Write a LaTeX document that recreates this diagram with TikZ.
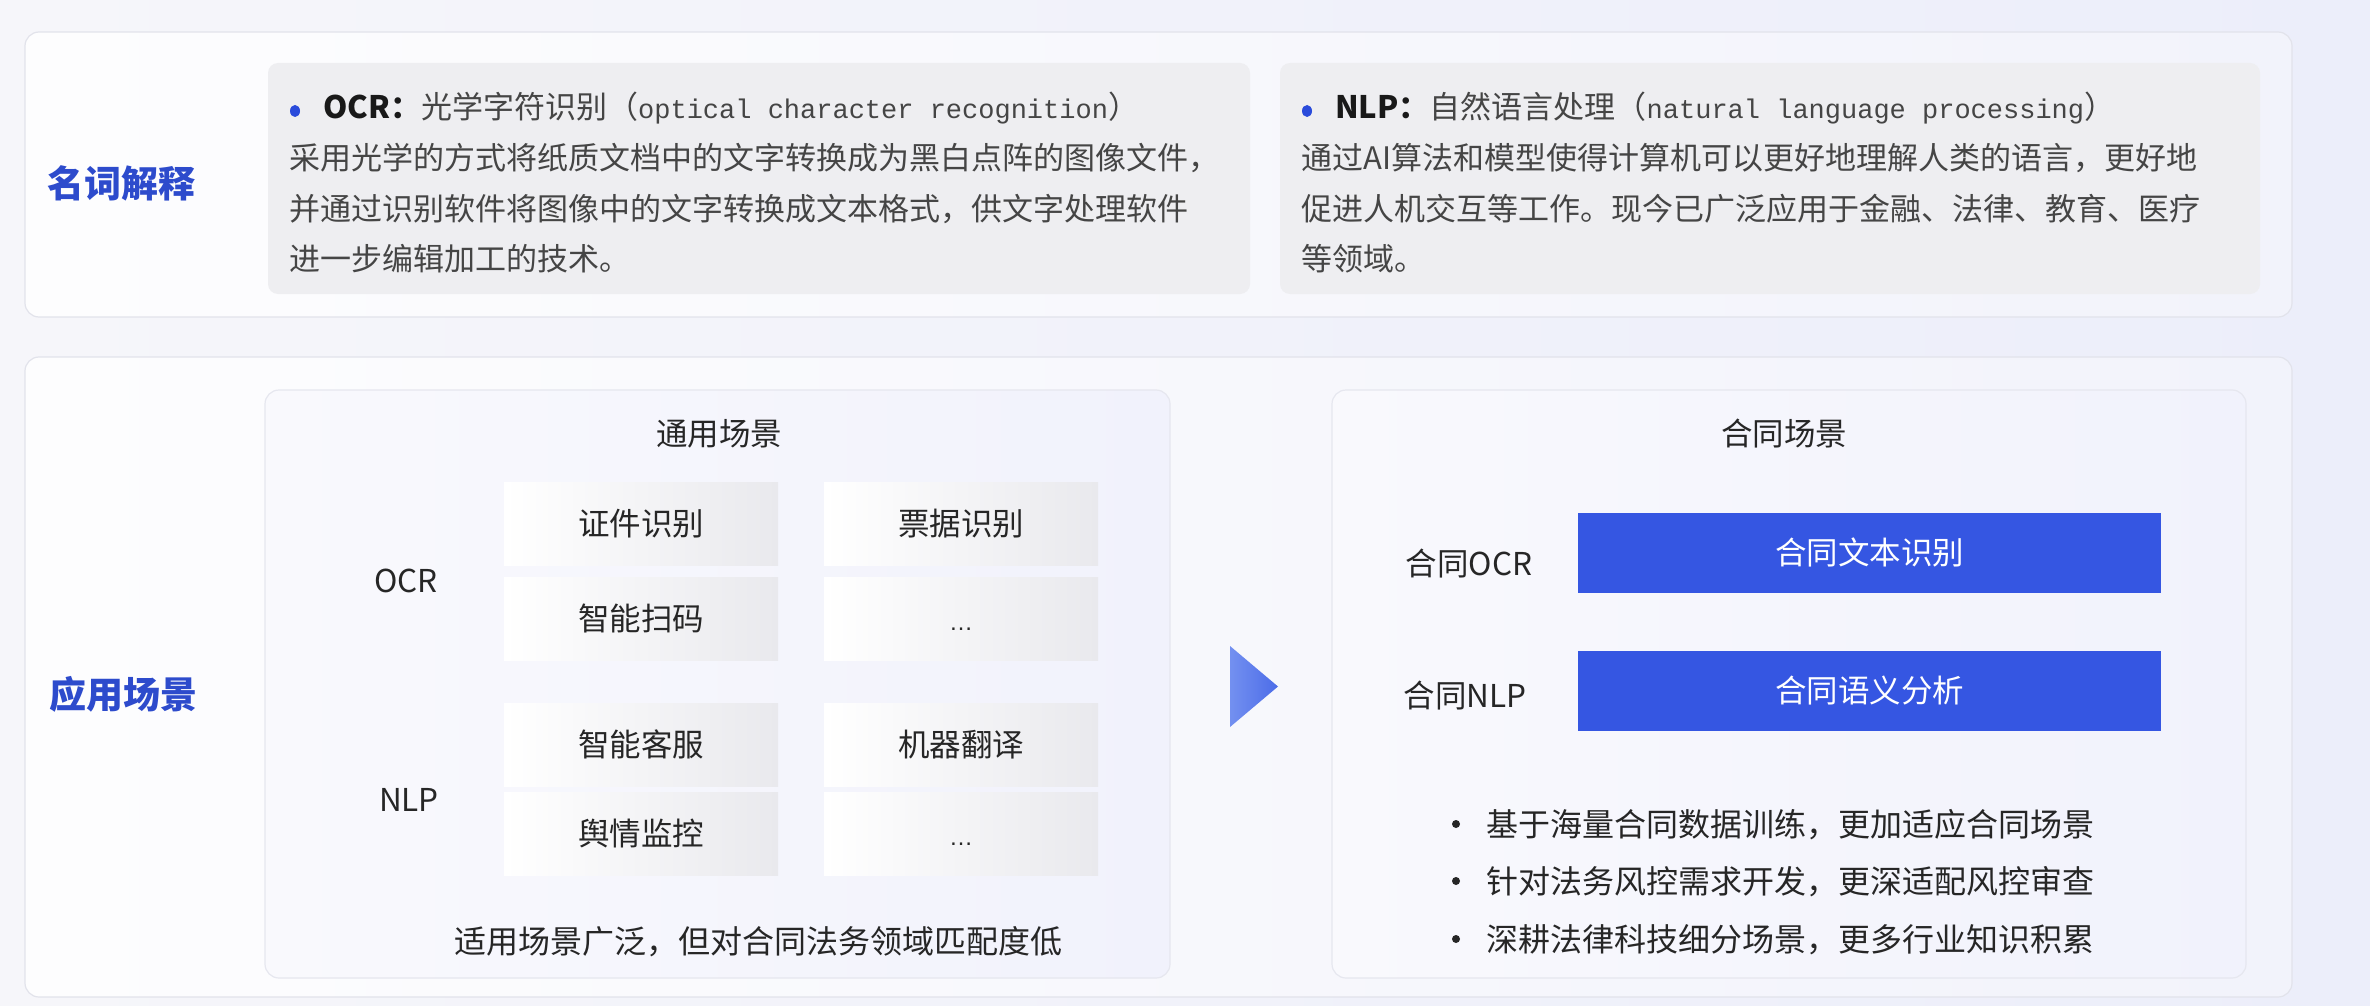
\documentclass[tikz,border=0pt]{standalone}
\usepackage{fontspec}
\setmainfont{Noto Sans CJK SC}
\newfontfamily\monof{Liberation Mono}
\newfontfamily\latf{Liberation Sans}
\definecolor{bgL}{HTML}{F6F6FA}
\definecolor{bgR}{HTML}{ECEEFA}
\definecolor{bandL}{HTML}{FDFDFE}
\definecolor{bandR}{HTML}{F2F3FB}
\definecolor{bandline}{HTML}{E2E3EB}
\definecolor{panelL}{HTML}{F9F9FD}
\definecolor{panelR}{HTML}{F1F2FC}
\definecolor{panelline}{HTML}{E6E7EF}
\definecolor{grayb}{HTML}{EEEEF1}
\definecolor{cellR}{HTML}{E9E9ED}
\definecolor{boxblue}{HTML}{3556E2}
\definecolor{headblue}{HTML}{2D4BCC}
\definecolor{dotblue}{HTML}{2A4BDB}
\definecolor{txtgray}{HTML}{454545}
\definecolor{txtdark}{HTML}{262626}
\definecolor{triL}{HTML}{7390F0}
\definecolor{triR}{HTML}{4C6CE8}
\begin{document}
\begin{tikzpicture}[x=1pt,y=-1pt,
  band/.style={draw=bandline, line width=1.2pt, rounded corners=14pt, left color=bandL, right color=bandR},
  panel/.style={draw=panelline, line width=1.2pt, rounded corners=14pt, left color=panelL, right color=panelR},
  graybox/.style={fill=grayb, rounded corners=10pt},
  cjk/.style={inner sep=0pt, font=\fontsize{31.5}{40}\selectfont, text height=27.7pt, text depth=3.8pt},
  cell/.style={cjk, left color=white, right color=cellR, minimum width=274pt, minimum height=83pt, text=txtdark},
  bluebox/.style={cjk, fill=boxblue, text=white, minimum width=583pt, minimum height=80pt},
  label/.style={inner sep=0pt, font=\fontsize{31.5}{40}\selectfont, text=txtdark, anchor=base},
  body/.style={inner sep=0pt, font=\fontsize{31}{40}\selectfont, text=txtgray, anchor=base west},
  point/.style={inner sep=0pt, font=\fontsize{32}{40}\selectfont, text=txtdark, anchor=base west},
  titleline/.style={inner sep=0pt, font=\fontsize{31}{40}\selectfont, text=txtgray, anchor=base west},
  heading/.style={inner sep=0pt, font=\fontsize{37}{44}\selectfont\bfseries, text=headblue, anchor=base}
]
\useasboundingbox (0,0) rectangle (2370,1006);
\shade[left color=bgL, right color=bgR] (0,0) rectangle (2370,1006);

% ---------- top band: 名词解释 ----------
\path[band] (25,32) rectangle (2292,317);
\node[heading] (h1) at (121,197) {名词解释};

\path[graybox] (268,63) rectangle (1250,294);
\path[graybox] (1280,63) rectangle (2260,294);

\fill[dotblue] (295,111) ellipse (5pt and 6pt);
\node[titleline] (ocrT) at (323,119) {{\color{black!90}\bfseries OCR：}光学字符识别（{\monof\fontsize{27}{30}\selectfont optical character recognition}）};
\node[body] (ocr1) at (289,170) {采用光学的方式将纸质文档中的文字转换成为黑白点阵的图像文件，};
\node[body] (ocr2) at (289,220) {并通过识别软件将图像中的文字转换成文本格式，供文字处理软件};
\node[body] (ocr3) at (289,270) {进一步编辑加工的技术。};

\fill[dotblue] (1307,111) ellipse (5pt and 6pt);
\node[titleline] (nlpT) at (1335,119) {{\color{black!90}\bfseries NLP：}自然语言处理（{\monof\fontsize{27}{30}\selectfont natural language processing}）};
\node[body] (nlp1) at (1301,170) {通过AI算法和模型使得计算机可以更好地理解人类的语言，更好地};
\node[body] (nlp2) at (1301,220) {促进人机交互等工作。现今已广泛应用于金融、法律、教育、医疗};
\node[body] (nlp3) at (1301,270) {等领域。};

% ---------- bottom band: 应用场景 ----------
\path[band] (25,357) rectangle (2292,997);
\node[heading] (h2) at (123,708) {应用场景};

% left panel
\path[panel] (265,390) rectangle (1170,978);
\node[label] (gen) at (719,445) {通用场景};
\node[label] (ocrL) at (406,592) {OCR};
\node[label] (nlpL) at (409,811) {NLP};

\node[cell] (c11) at (641,523.5) {证件识别};
\node[cell] (c12) at (961,523.5) {票据识别};
\node[cell] (c21) at (641,618.5) {智能扫码};
\node[cell] (c22) at (961,618.5) {\latf\fontsize{24}{30}\selectfont …};
\node[cell] (c31) at (641,744.5) {智能客服};
\node[cell] (c32) at (961,744.5) {机器翻译};
\node[cell] (c41) at (641,834) {舆情监控};
\node[cell] (c42) at (961,834) {\latf\fontsize{24}{30}\selectfont …};

\node[label, font=\fontsize{32}{40}\selectfont] (genNote) at (758,953) {适用场景广泛，但对合同法务领域匹配度低};

% arrow triangle
\shade[left color=triL, right color=triR] (1230,646) -- (1278,686.5) -- (1230,727) -- cycle;

% right panel
\path[panel] (1332,390) rectangle (2246,978);
\node[label] (ctr) at (1784,445) {合同场景};
\node[label] (cocr) at (1469,575) {合同OCR};
\node[label] (cnlp) at (1465,707) {合同NLP};
\node[bluebox] (b1) at (1869.5,553) {合同文本识别};
\node[bluebox] (b2) at (1869.5,691) {合同语义分析};

\fill[txtdark] (1456,824) circle (4pt);
\fill[txtdark] (1456,881) circle (4pt);
\fill[txtdark] (1456,939) circle (4pt);
\node[point] (p1) at (1486,836) {基于海量合同数据训练，更加适应合同场景};
\node[point] (p2) at (1486,893) {针对法务风控需求开发，更深适配风控审查};
\node[point] (p3) at (1486,951) {深耕法律科技细分场景，更多行业知识积累};
\end{tikzpicture}
\end{document}
